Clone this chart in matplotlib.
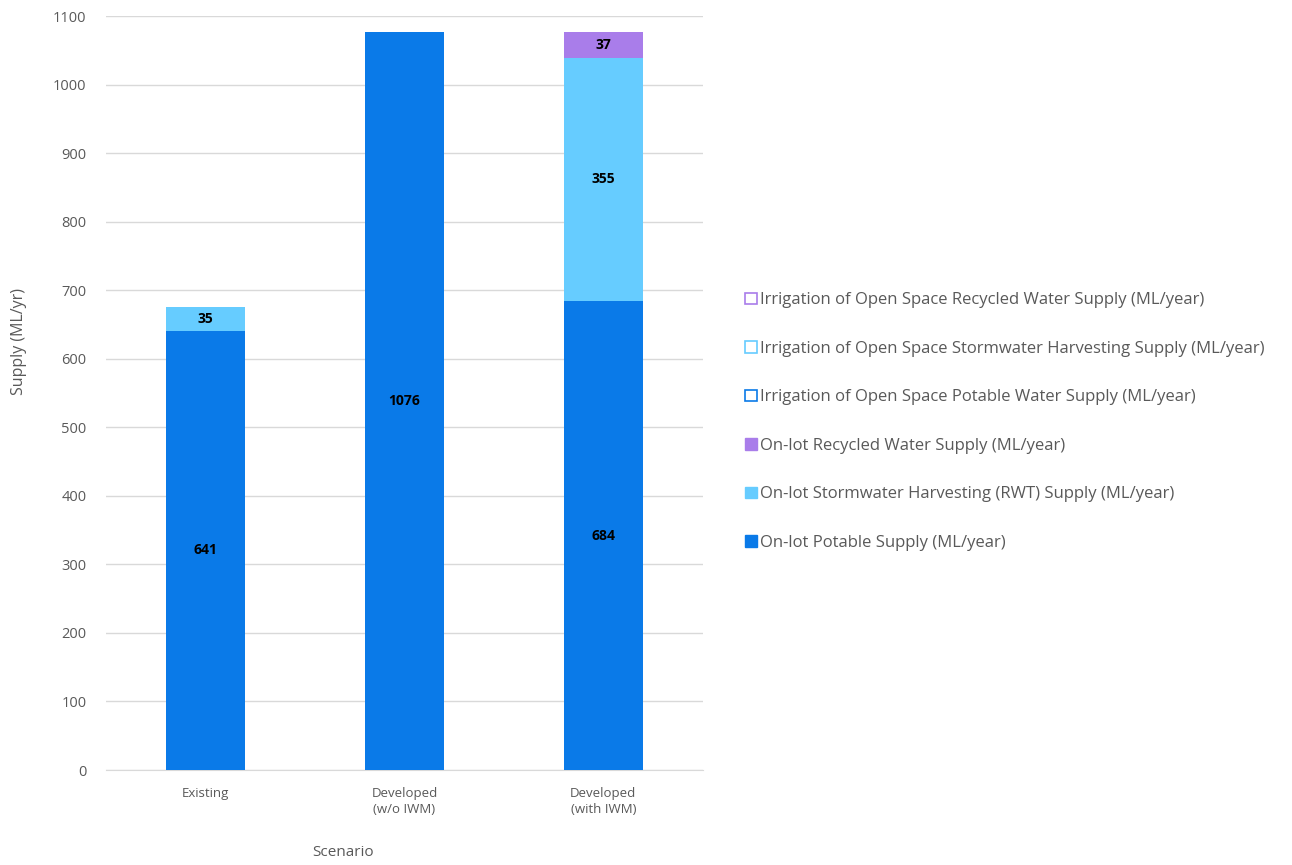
import matplotlib.pyplot as plt
import numpy as np
from matplotlib.patches import Patch

plt.rcParams["font.family"] = ["Open Sans", "DejaVu Sans"]

scenarios = ["Existing", "Developed\n(w/o IWM)", "Developed\n(with IWM)"]

# supply components per scenario (ML/year), bottom to top
onlot_potable = [641, 1076, 684]
onlot_stormwater = [35, 0, 355]
onlot_recycled = [0, 0, 37]
irrig_potable = [0, 0, 0]
irrig_stormwater = [0, 0, 0]
irrig_recycled = [0, 0, 0]

series = [
    ("On-lot Potable Supply (ML/year)", onlot_potable, "#0A7AE8", True),
    ("On-lot Stormwater Harvesting (RWT) Supply (ML/year)", onlot_stormwater, "#66CCFF", True),
    ("On-lot Recycled Water Supply (ML/year)", onlot_recycled, "#A97DEA", True),
    ("Irrigation of Open Space Potable Water Supply (ML/year)", irrig_potable, "#0A7AE8", False),
    ("Irrigation of Open Space Stormwater Harvesting Supply (ML/year)", irrig_stormwater, "#66CCFF", False),
    ("Irrigation of Open Space Recycled Water Supply (ML/year)", irrig_recycled, "#A97DEA", False),
]

fig = plt.figure(figsize=(12.92, 8.65), dpi=100)
ax = fig.add_axes([0.082, 0.1098, 0.462, 0.8717])

x = np.arange(len(scenarios))
width = 0.4
bottom = np.zeros(len(scenarios))
handles = []
for label, vals, color, filled in series:
    vals = np.array(vals, dtype=float)
    mask = vals > 0
    if filled:
        ax.bar(x[mask], vals[mask], width, bottom=bottom[mask], color=color, zorder=3)
        for xi, b, v in zip(x[mask], bottom[mask], vals[mask]):
            ax.text(xi, b + v / 2, f"{int(v)}", ha="center", va="center",
                    fontsize=10, fontweight="bold", color="black", zorder=4)
        handles.append(Patch(facecolor=color, edgecolor=color, label=label))
    else:
        if mask.any():
            ax.bar(x[mask], vals[mask], width, bottom=bottom[mask], facecolor="white",
                   edgecolor=color, linewidth=1.2, zorder=3)
        handles.append(Patch(facecolor="white", edgecolor=color, linewidth=1.2, label=label))
    bottom += vals

ax.set_ylim(0, 1100)
ax.set_xlim(-0.5, 2.5)
ax.set_yticks(np.arange(0, 1101, 100))
ax.set_xticks(x)
ax.set_xticklabels(scenarios, fontsize=9.5, color="#595959", linespacing=1.3)
ax.tick_params(axis="y", length=0, pad=14, labelsize=10.5, labelcolor="#595959")
ax.tick_params(axis="x", length=0, pad=12)
ax.grid(axis="y", color="#D9D9D9", linewidth=1, zorder=0)
for side in ["top", "right", "left"]:
    ax.spines[side].set_visible(False)
ax.spines["bottom"].set_color("#D9D9D9")

ax.set_ylabel("Supply (ML/yr)", fontsize=11.5, color="#595959")
ax.yaxis.set_label_coords(-0.132, 0.568)
ax.set_xlabel("Scenario", fontsize=11, color="#595959")
ax.xaxis.set_label_coords(0.397, -0.099)

fig.legend(handles[::-1], [h.get_label() for h in handles][::-1],
           loc="center left", bbox_to_anchor=(0.5766, 0.5127),
           frameon=False, fontsize=12, labelcolor="#595959",
           handlelength=0.7, handleheight=0.7, handletextpad=0.2,
           labelspacing=1.95, borderpad=0, borderaxespad=0)

fig.savefig("out.png", dpi=100)
